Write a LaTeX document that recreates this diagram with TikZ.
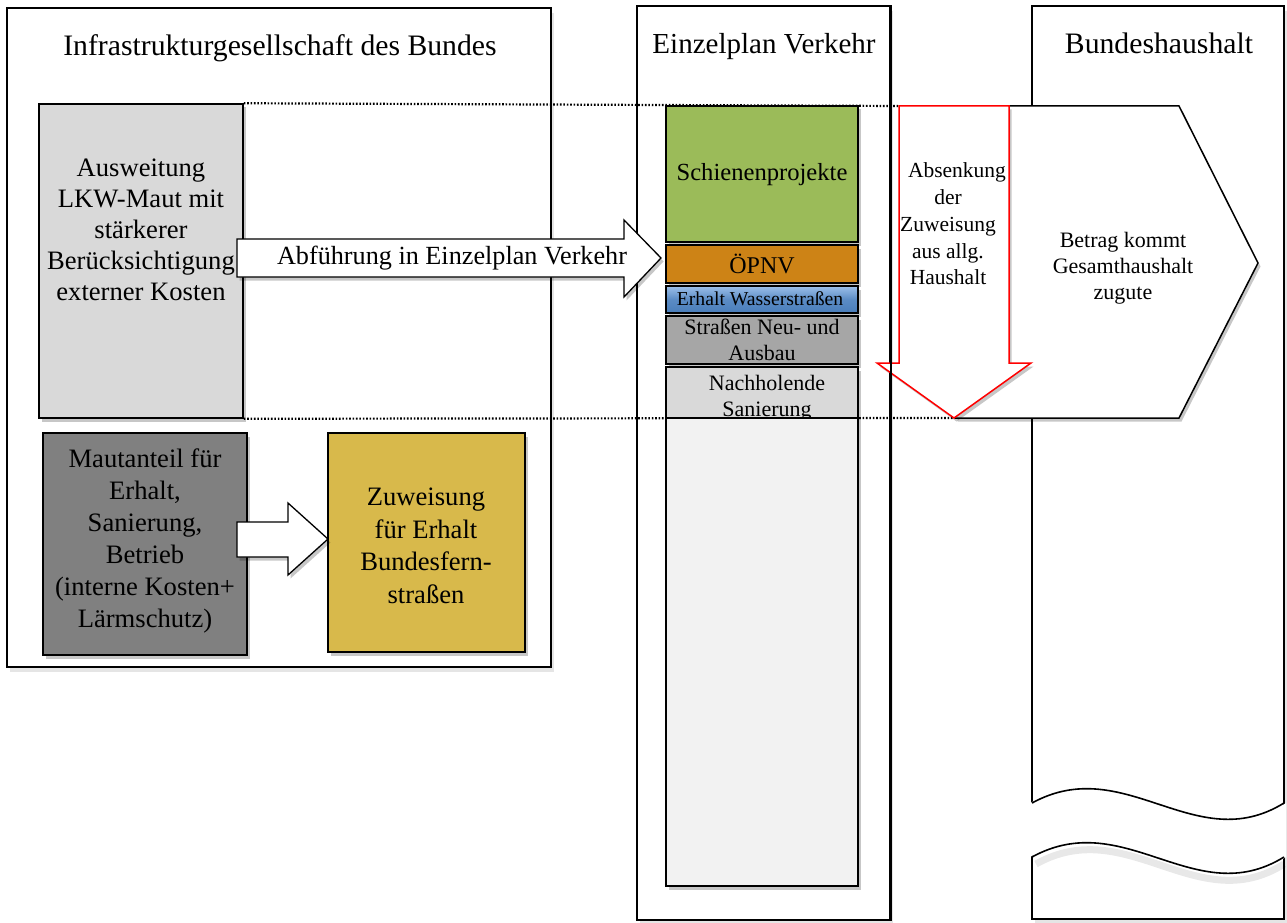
\documentclass[tikz,border=0pt]{standalone}
\usepackage{fontspec}
\setmainfont{Liberation Serif}
\usetikzlibrary{shadows,fit}
\definecolor{cgreen}{HTML}{9BBB59}
\definecolor{corange}{HTML}{CD8316}
\definecolor{cbluetop}{HTML}{9DC0EA}
\definecolor{cbluebot}{HTML}{4A7EBB}
\definecolor{cgrayA}{HTML}{A6A6A6}
\definecolor{cgrayB}{HTML}{D9D9D9}
\definecolor{cgrayC}{HTML}{F2F2F2}
\definecolor{cgrayD}{HTML}{808080}
\definecolor{cyellow}{HTML}{D8B94B}
\newcommand\fsz[2]{\fontsize{#1}{#2}\selectfont}
\begin{document}
\begin{tikzpicture}[x=1pt,y=-1pt,
  shadowed/.style={drop shadow={shadow xshift=2.5pt,shadow yshift=-3.5pt,opacity=0.22,fill=black}},
  panelshadow/.style={drop shadow={shadow xshift=3pt,shadow yshift=-5pt,opacity=0.10,fill=black}},
  panel/.style={draw=black,line width=1.5pt,fill=white,inner sep=0pt,panelshadow},
  box/.style={draw=black,line width=1.5pt,inner sep=0pt,shadowed},
  blockarrow/.style={draw=black,line width=1.3pt,fill=white,shadowed,line join=miter},
  redarrow/.style={draw=red,line width=1.5pt,fill=white,shadowed,line join=miter},
  dotline/.style={line width=2.2pt,dash pattern=on 1.6pt off 1.8pt},
  txt/.style={align=center,inner sep=0pt,text=black},
]
\useasboundingbox (0,0) rectangle (1287,923);

% panels
\node[panel,fit={(7,8) (551,667)}] (pleft) {};
\node[panel,fit={(637,6) (890,920)}] (pmid) {};
\node[panel,fit={(1032,6) (1284,919)}] (pright) {};

% helper coordinates
\coordinate (ratl) at (899,106);
\coordinate (ratip) at (954,418);

% boxes left
\node[box,fill=cgrayB,fit={(39,104) (243,418)}] (ausw) {};
\node[box,fill=cgrayD,fit={(43,433) (247,655)}] (maut) {};
\node[box,fill=cyellow,fit={(328,433) (525,652)}] (zuw) {};

% dotted guide lines
\draw[dotline] (ausw.north east) -- (ratl);
\draw[dotline] (ausw.south east) -- (ratip);

% stack in Einzelplan
\node[box,fill=cgreen,fit={(666,106) (858,242)}] (schiene) {};
\node[box,fill=corange,fit={(666,245) (858,283)}] (oepnv) {};
\node[box,top color=cbluetop,bottom color=cbluebot,middle color=cbluebot!80!cbluetop,fit={(666,286) (858,313)}] (wasser) {};
\node[box,fill=cgrayA,fit={(666,316) (858,364)}] (strassen) {};
\node[box,fill=cgrayB,fit={(666,367) (858,418)}] (nach) {};
\node[txt,font=\fsz{22}{26}] (nachtext) at (767,398) {Nachholende\\Sanierung};
\node[box,fill=cgrayC,fit={(666,418) (858,886)}] (rest) {};

% pentagon "Betrag kommt ..."
\path[draw=black,line width=1.5pt,fill=white,shadowed,line join=miter]
  (955,106) -- (1179,106) -- (1258,263) -- (1179,418) -- (955,418) -- cycle;
\node[txt,font=\fsz{22}{26}] (betrag) at (1123,268) {Betrag kommt\\Gesamthaushalt\\zugute};

% red arrow
\path[redarrow] (ratl) -- (1009,106) -- (1009,363) -- (1031,363) -- (ratip) -- (877,363) -- (899,363) -- cycle;
\node[txt,font=\fsz{21.5}{26.7}] (absenk) at (948,224) {\hspace*{18pt}Absenkung\\der\\Zuweisung\\aus allg.\\Haushalt};

% Einzelplan right edge shows over the red arrow head
\draw[line width=1.5pt] (pmid.north east) -- (pmid.south east);

% block arrows
\path[blockarrow] (237,239) -- (624,239) -- (624,220) -- (661,258) -- (624,297) -- (624,277) -- (237,277) -- cycle;
\node[txt,font=\fsz{26.2}{30}] (abf) at (452,258) {Abführung in Einzelplan Verkehr};
\path[blockarrow] (237,522) -- (288,522) -- (288,503) -- (328,539) -- (288,575) -- (288,557) -- (237,557) -- cycle;

% wavy break in Bundeshaushalt
\path[fill=white] (1030,803) .. controls (1125,752) and (1195,858) .. (1286,803)
  -- (1286,857) .. controls (1195,912) and (1125,806) .. (1030,857) -- cycle;
\draw[line width=7pt,black,opacity=0.09,shift={(2,7)}] (1034,857) .. controls (1125,806) and (1195,912) .. (1282,857);
\draw[line width=1.6pt] (1032,803) .. controls (1125,752) and (1195,858) .. (1284,803);
\draw[line width=1.6pt] (1032,857) .. controls (1125,806) and (1195,912) .. (1284,857);

% titles
\node[txt,font=\fsz{29.7}{34},anchor=base] (t1) at (280,56) {Infrastrukturgesellschaft des Bundes};
\node[txt,font=\fsz{29}{34},anchor=base] (t2) at (764,54) {Einzelplan Verkehr};
\node[txt,font=\fsz{29.7}{34},anchor=base] (t3) at (1159,54) {Bundeshaushalt};

% texts
\node[txt,font=\fsz{26.6}{31}] (ausw-t) at (141,230) {Ausweitung\\LKW-Maut mit\\stärkerer\\Berücksichtigung\\externer Kosten};
\node[txt,font=\fsz{26.6}{32}] (maut-t) at (145,541) {Mautanteil für\\Erhalt,\\Sanierung,\\Betrieb\\(interne Kosten+\\Lärmschutz)};
\node[txt,font=\fsz{26.6}{32.5}] (zuw-t) at (426,546) {Zuweisung\\für Erhalt\\Bundesfern-\\straßen};
\node[txt,font=\fsz{24.6}{28}] (schiene-t) at (762,175) {Schienenprojekte};
\node[txt,font=\fsz{24}{28}] (oepnv-t) at (762,264) {ÖPNV};
\node[txt,font=\fsz{19.7}{22}] (wasser-t) at (760,299) {Erhalt Wasserstraßen};
\node[txt,font=\fsz{22}{26}] (strassen-t) at (762,340) {Straßen Neu- und\\Ausbau};
\end{tikzpicture}
\end{document}
